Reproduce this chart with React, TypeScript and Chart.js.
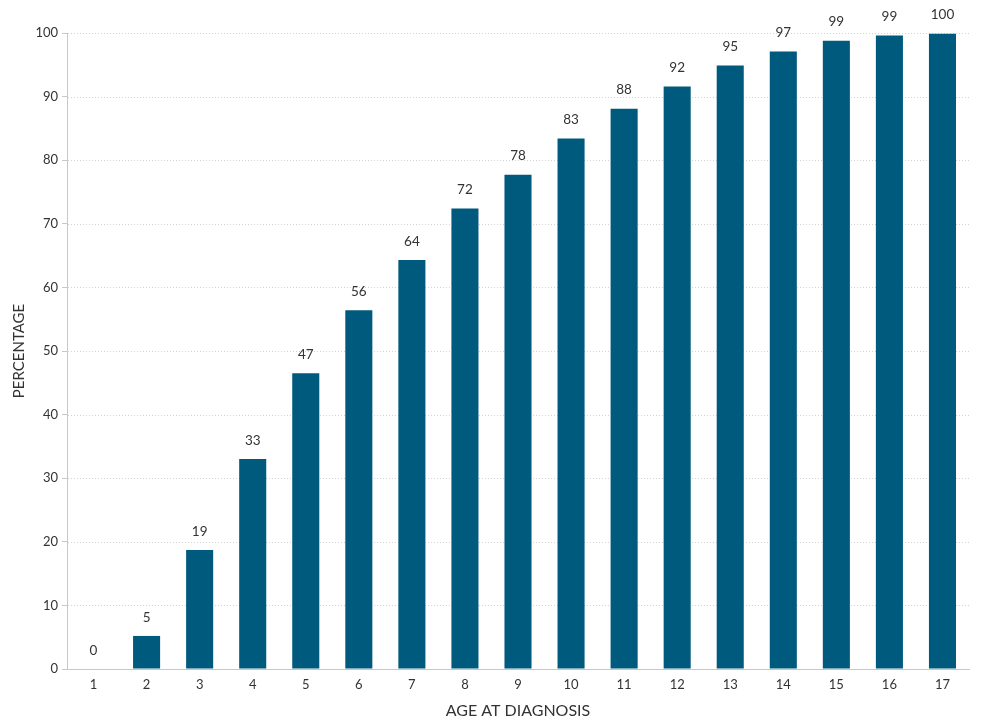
import React, { useEffect, useRef } from "react";
import { Chart, registerables } from "chart.js";

Chart.register(...registerables);

const ages = ["1","2","3","4","5","6","7","8","9","10","11","12","13","14","15","16","17"];
const percentages = [0, 5.2, 18.7, 33.0, 46.5, 56.4, 64.3, 72.4, 77.7, 83.4, 88.1, 91.6, 94.9, 97.1, 98.8, 99.6, 99.9];
const valueLabels = ["0","5","19","33","47","56","64","72","78","83","88","92","95","97","99","99","100"];
const yTicks = [0, 10, 20, 30, 40, 50, 60, 70, 80, 90, 100];

const FONT = "Lato, 'Open Sans', sans-serif";
const BAR = "#005a7d";

const labelPlugin = {
  id: "valueLabels",
  afterDatasetsDraw(chart: any) {
    const ctx = chart.ctx;
    const meta = chart.getDatasetMeta(0);
    ctx.save();
    ctx.font = `13.5px ${FONT}`;
    ctx.fillStyle = "#333";
    ctx.textAlign = "center";
    ctx.textBaseline = "bottom";
    meta.data.forEach((bar: any, i: number) => {
      ctx.fillText(valueLabels[i], bar.x, bar.y - 12);
    });
    ctx.restore();
  },
};

const dottedGrid = {
  id: "dottedGrid",
  beforeDatasetsDraw(chart: any) {
    const y = chart.scales.y;
    const ctx = chart.ctx;
    const area = chart.chartArea;
    ctx.save();
    ctx.strokeStyle = "#d2d2d2";
    ctx.lineWidth = 1;
    ctx.setLineDash([1, 2]);
    yTicks.forEach((v) => {
      if (v === 0) return;
      const py = Math.round(y.getPixelForValue(v)) + 0.5;
      ctx.beginPath();
      ctx.moveTo(area.left + 1, py);
      ctx.lineTo(area.right, py);
      ctx.stroke();
    });
    ctx.restore();
  },
};

export default function App() {
  const ref = useRef<HTMLCanvasElement>(null);
  useEffect(() => {
    if (!ref.current) return;
    const chart = new Chart(ref.current, {
      type: "bar",
      data: {
        labels: ages,
        datasets: [
          {
            data: percentages,
            backgroundColor: BAR,
            barPercentage: 0.51,
            categoryPercentage: 1,
          },
        ],
      },
      options: {
        animation: false,
        responsive: true,
        maintainAspectRatio: false,
        layout: { padding: { top: 33, right: 13, left: 0, bottom: 0 } },
        plugins: { legend: { display: false }, tooltip: { enabled: false } },
        scales: {
          x: {
            grid: { display: false, drawTicks: false },
            border: { display: true, color: "#c8c8c8", width: 1 },
            ticks: { color: "#333", font: { family: FONT, size: 13 }, padding: 8 },
            title: {
              display: true,
              text: "AGE AT DIAGNOSIS",
              color: "#333",
              font: { family: FONT, size: 16 },
              padding: { top: 4, bottom: 5 },
            },
            afterFit(scale: any) {
              scale.height = 56;
            },
          },
          y: {
            min: 0,
            max: 100,
            afterBuildTicks(scale: any) {
              scale.ticks = yTicks.map((v) => ({ value: v }));
            },
            grid: {
              drawOnChartArea: false,
              drawTicks: true,
              tickLength: 5,
              tickColor: "#c8c8c8",
            },
            border: { display: true, color: "#c8c8c8", width: 1 },
            ticks: { color: "#333", font: { family: FONT, size: 13 }, padding: 4 },
            title: {
              display: true,
              text: "PERCENTAGE",
              color: "#333",
              font: { family: FONT, size: 15 },
              padding: { top: 10, bottom: 0 },
            },
            afterFit(scale: any) {
              scale.width = 67;
            },
          },
        },
      },
      plugins: [dottedGrid, labelPlugin],
    } as any);
    return () => chart.destroy();
  }, []);

  return (
    <div style={{ position: "fixed", left: 0, top: 0, width: 982, height: 725, background: "#fff" }}>
      <canvas ref={ref} />
    </div>
  );
}
